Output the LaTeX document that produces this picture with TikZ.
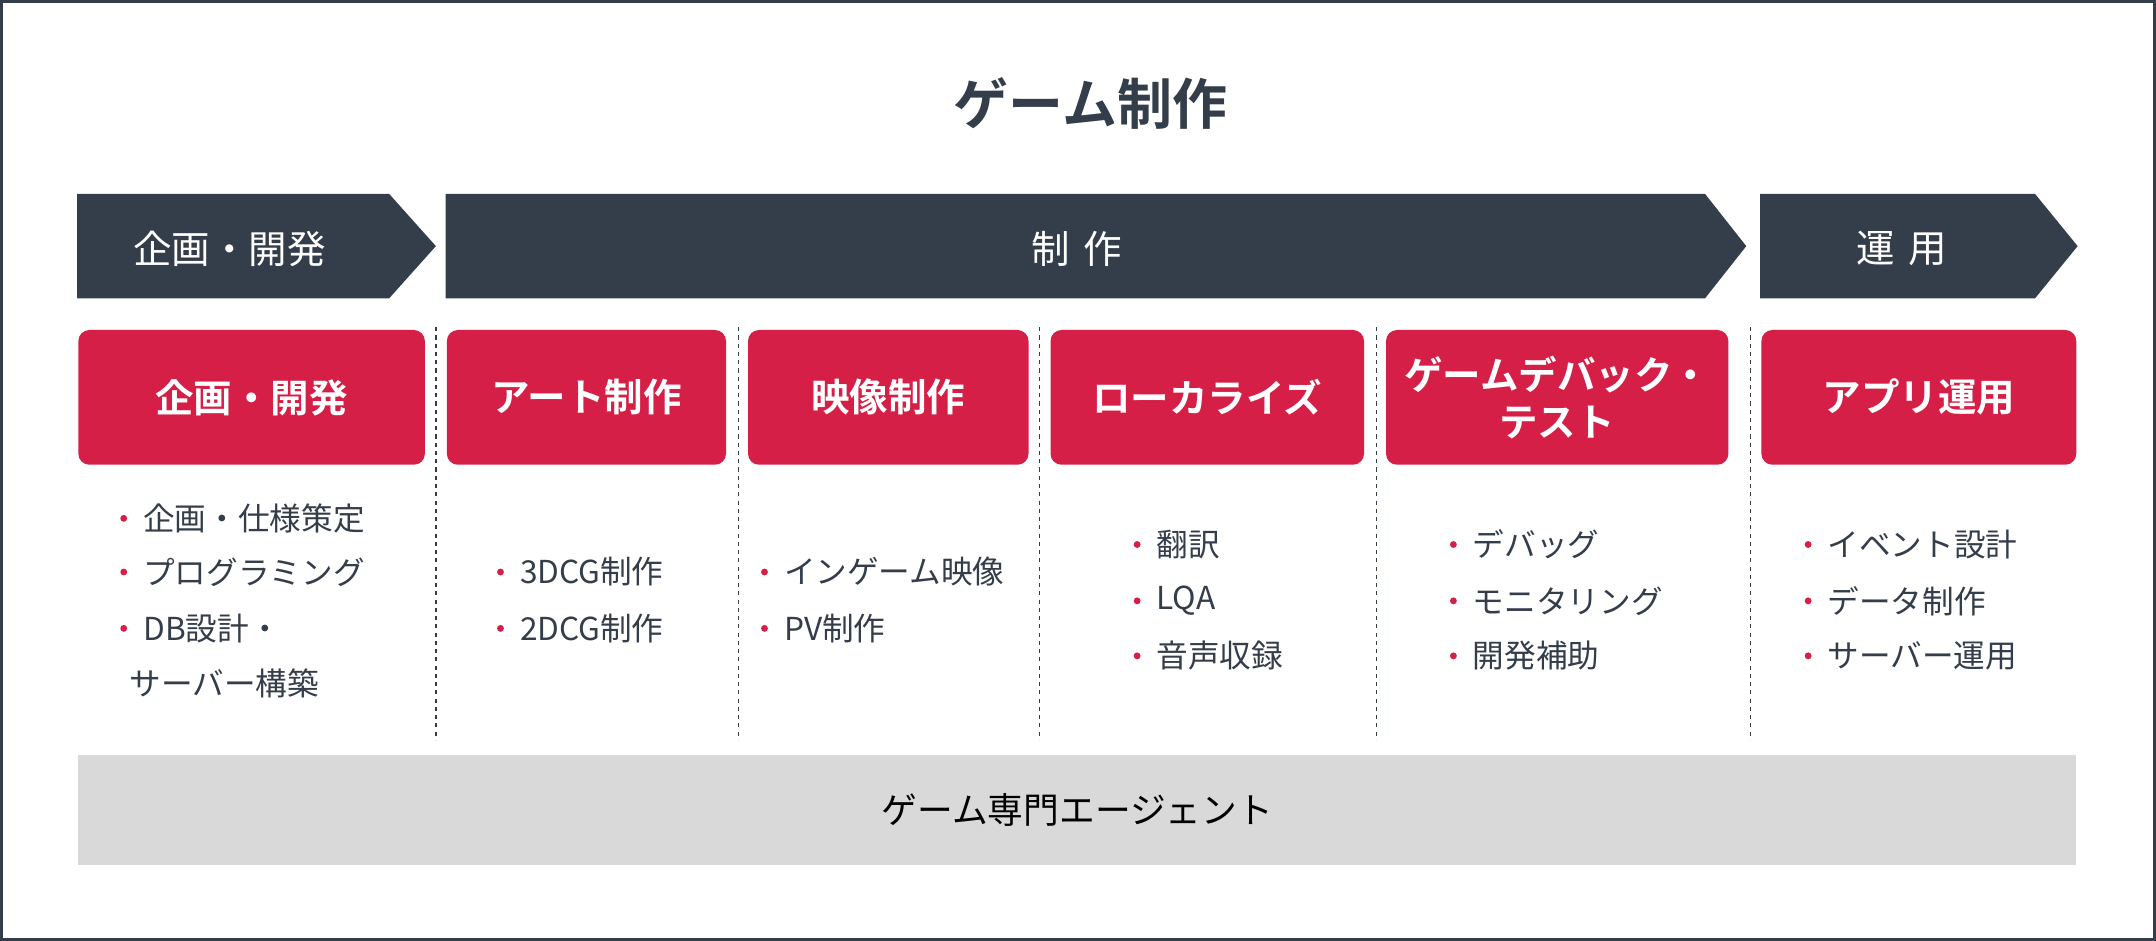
\documentclass[tikz,border=0pt]{standalone}
\usepackage{fontspec}
\setmainfont{Noto Sans CJK JP}[BoldFont={Noto Sans CJK JP Bold}]
\definecolor{dk}{HTML}{343D4A}
\definecolor{rd}{HTML}{D51F46}
\definecolor{gy}{HTML}{D9D9D9}
\tikzset{
  band/.style={fill=dk,draw=none},
  bandtxt/.style={text=white,font=\fontsize{28}{32}\selectfont},
  redbox/.style={fill=rd,draw=none,rounded corners=8pt,text=white,font=\bfseries\fontsize{28}{34}\selectfont,align=center,inner sep=0pt},
  sep/.style={draw=dk,dashed,line width=1pt,dash pattern=on 3pt off 3pt},
  item/.style={anchor=west,text=dk,font=\fontsize{23}{26}\selectfont,inner sep=0pt},
  bul/.style={circle,fill=rd,inner sep=0pt,minimum size=5pt},
}
\newcommand{\itm}[4]{\node[bul] (b#1) at (#2-14,#3) {}; \node[item] (t#1) at (#2,#3) {#4};}
\begin{document}
\begin{tikzpicture}[x=1pt,y=-1pt]
\useasboundingbox (0,0) rectangle (1568,684);
\draw[dk,line width=2pt] (1,1) rectangle (1567,683);
\node[text=dk,font=\bfseries\fontsize{40}{46}\selectfont] (title) at (793,75) {ゲーム制作};
% bands
\fill[band] (56,141) -- (283,141) -- (317,179) -- (283,217) -- (56,217) -- cycle;
\fill[band] (324,141) -- (1240,141) -- (1270,179) -- (1240,217) -- (324,217) -- cycle;
\fill[band] (1280,141) -- (1480,141) -- (1511,179) -- (1480,217) -- (1280,217) -- cycle;
\node[bandtxt] (p1) at (167,181) {企画・開発};
\node[bandtxt] (p2) at (783,181) {制\,\,作};
\node[bandtxt] (p3) at (1383,181) {運\,\,用};
% red boxes
\node[redbox,minimum width=252pt,minimum height=98pt] (r1) at (183,289) {企画・開発};
\node[redbox,minimum width=203pt,minimum height=98pt] (r2) at (426.5,289) {アート制作};
\node[redbox,minimum width=204pt,minimum height=98pt] (r3) at (646,289) {映像制作};
\node[redbox,minimum width=228pt,minimum height=98pt] (r4) at (878,289) {ローカライズ};
\node[redbox,minimum width=249pt,minimum height=98pt] (r5) at (1132.5,289) {ゲームデバック・\\テスト};
\node[redbox,minimum width=229pt,minimum height=98pt] (r6) at (1395.5,289) {アプリ運用};
% separators
\foreach \x in {317,537,756,1001,1273} \draw[sep] (\x,238) -- (\x,538);
% lists
\itm{a1}{104}{377}{企画・仕様策定}
\itm{a2}{104}{416}{プログラミング}
\itm{a3}{104}{457}{DB設計・}
\node[item] (a4) at (94,497) {サーバー構築};
\itm{b1}{378}{416}{3DCG制作}
\itm{b2}{378}{457}{2DCG制作}
\itm{c1}{570}{416}{インゲーム映像}
\itm{c2}{570}{457}{PV制作}
\itm{d1}{841}{396}{翻訳}
\itm{d2}{841}{437}{LQA}
\itm{d3}{841}{477}{音声収録}
\itm{e1}{1071}{396}{デバッグ}
\itm{e2}{1071}{437}{モニタリング}
\itm{e3}{1071}{477}{開発補助}
\itm{f1}{1329}{396}{イベント設計}
\itm{f2}{1329}{437}{データ制作}
\itm{f3}{1329}{477}{サーバー運用}
% bottom bar
\node[fill=gy,minimum width=1453pt,minimum height=80pt,inner sep=0pt,text=black,font=\fontsize{26}{30}\selectfont] (agent) at (783.5,589) {ゲーム専門エージェント};
\end{tikzpicture}
\end{document}
